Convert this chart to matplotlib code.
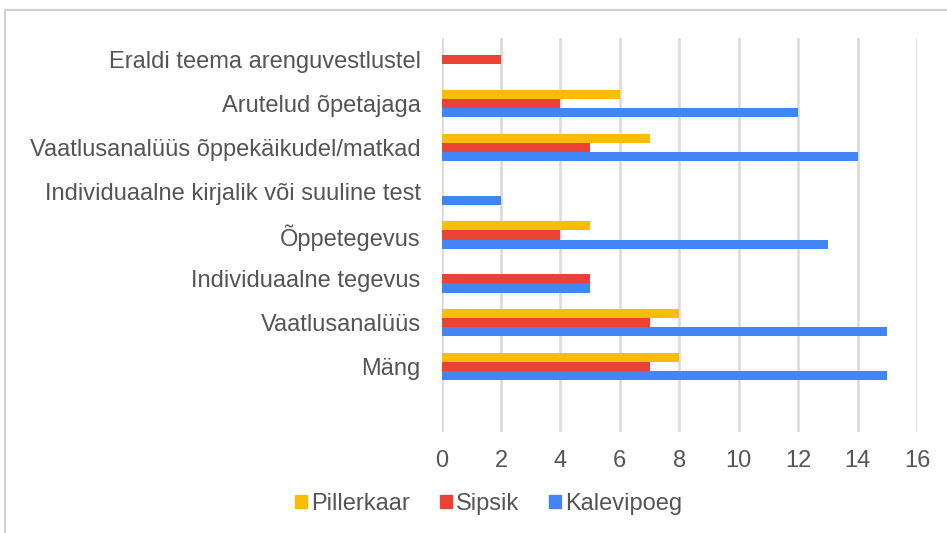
import numpy as np
import matplotlib
matplotlib.use("Agg")
import matplotlib.pyplot as plt
from matplotlib.patches import Patch, Rectangle

plt.rcParams['font.family'] = ['Liberation Sans', 'DejaVu Sans']

# categories listed bottom to top
categories = ["Mäng", "Vaatlusanalüüs", "Individuaalne tegevus", "Õppetegevus",
              "Individuaalne kirjalik või suuline test",
              "Vaatlusanalüüs õppekäikudel/matkad", "Arutelud õpetajaga",
              "Eraldi teema arenguvestlustel"]
pillerkaar = [8, 8, 0, 5, 0, 7, 6, 0]
sipsik = [7, 7, 5, 4, 0, 5, 4, 2]
kalevipoeg = [15, 15, 5, 13, 2, 14, 12, 0]
series_names = ["Pillerkaar", "Sipsik", "Kalevipoeg"]
colors = ["#FBBC04", "#EA4335", "#4285F4"]
xticks = [0, 2, 4, 6, 8, 10, 12, 14, 16]

text_color = "#555555"
fs = 17

fig = plt.figure(figsize=(9.47, 5.33), dpi=100)
ax = fig.add_axes([441.5 / 947, 0.1895, 475.5 / 947, 0.7392])

y = np.arange(len(categories))
h = 0.21
for vals, off, col in zip([pillerkaar, sipsik, kalevipoeg], [h, 0, -h], colors):
    ax.barh(y + off, vals, height=h, color=col, zorder=3)

ax.set_xlim(0, 16)
ax.set_ylim(-1.5, 7.5)
ax.set_xticks(xticks)
ax.set_yticks(y)
ax.set_yticklabels(categories)
ax.grid(axis='x', color='#d9d9d9', linewidth=1.8, zorder=0)
ax.tick_params(axis='both', length=0, labelsize=fs, labelcolor=text_color)
ax.tick_params(axis='x', pad=13)
ax.tick_params(axis='y', pad=15)
for s in ax.spines.values():
    s.set_visible(False)

handles = [Patch(color=c) for c in colors]
fig.legend(handles, series_names, loc='center', bbox_to_anchor=(0.516, 0.055),
           ncol=3, frameon=False, fontsize=fs, labelcolor=text_color,
           handlelength=0.5, handleheight=0.5, handletextpad=0.15,
           columnspacing=1.3)

# outer chart frame (cropped on right and bottom)
fig.patches.append(Rectangle((5 / 947, -0.2), 1.3, 1.2 - 10 / 533,
                             transform=fig.transFigure, fill=False,
                             edgecolor='#d0d0d0', linewidth=1.5))

fig.savefig("out.png", dpi=100)
